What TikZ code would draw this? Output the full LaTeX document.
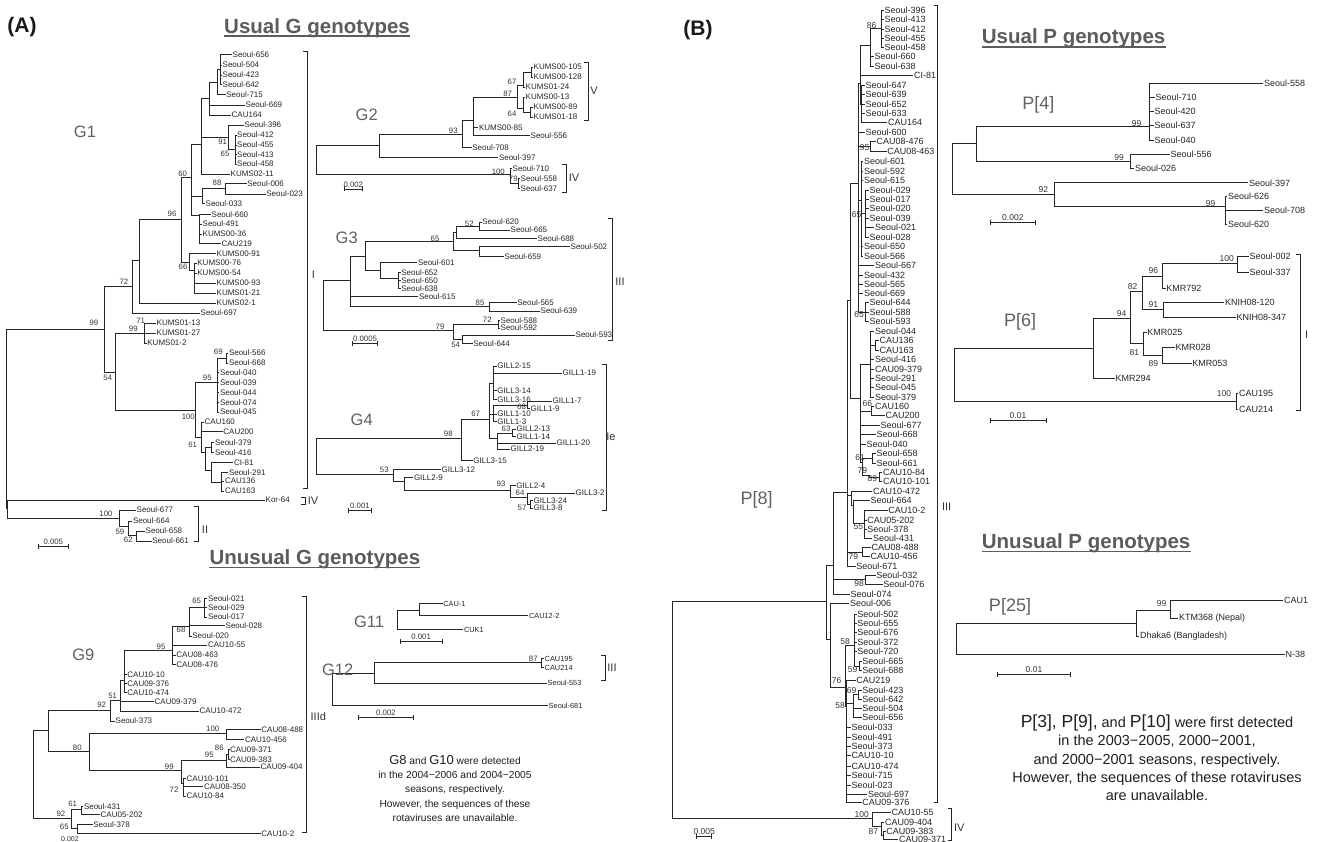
\documentclass[tikz,border=0pt]{standalone}
\usepackage{fontspec}
\setmainfont{Liberation Sans}
\newcounter{lfc}\newcounter{bsc}\newcounter{mxc}
\newcommand\Lf[4]{\stepcounter{lfc}\edef\lfn{lf\arabic{lfc}}\node[lab] (\lfn) at (#1,#2) {#3};\draw[br] (#4) |- (\lfn.west);}
\newcommand\Ls[4]{\stepcounter{lfc}\edef\lfn{lf\arabic{lfc}}\node[lab,sm] (\lfn) at (#1,#2) {#3};\draw[br] (#4) |- (\lfn.west);}
\newcommand\In[4]{\coordinate (#1) at (#2,#3);\draw[br] (#4) |- (#1);}
\newcommand\Bs[3]{\stepcounter{bsc}\edef\bsn{bs\arabic{bsc}}\node[bs] (\bsn) at (#1,#2) {#3};}
\newcommand\Sc[4]{\stepcounter{mxc}\edef\mxn{sc\arabic{mxc}}\draw[br] (#1,#3-2.5) -- (#1,#3+2.5) (#1,#3) -- (#2,#3) (#2,#3-2.5) -- (#2,#3+2.5);\node[bs,anchor=south] (\mxn) at ({(#1+#2)/2},#3-1.5) {#4};}
\newcommand\Br[6]{\stepcounter{mxc}\edef\mxn{br\arabic{mxc}}\draw[br] (#1-4,#2) -- (#1,#2) -- (#1,#3) -- (#1-4,#3);\node[rn] (\mxn) at (#4,#5) {#6};}
\begin{document}
\begin{tikzpicture}[x=1pt,y=-1pt,
 br/.style={draw=black!85,line width=0.75pt},
 lab/.style={font=\fontsize{8}{9}\selectfont,text=black!85,inner sep=0.5pt,anchor=west},
 sm/.style={font=\fontsize{7.4}{8}\selectfont},
 bs/.style={font=\fontsize{7.8}{8}\selectfont,text=black!80,inner sep=0pt},
 gt/.style={font=\fontsize{16.5}{17}\selectfont,text=black!62,inner sep=0pt},
 gtp/.style={font=\fontsize{18}{19}\selectfont,text=black!62,inner sep=0pt},
 hd/.style={font=\bfseries\fontsize{20.5}{22}\selectfont,text=black!64,inner sep=0pt,anchor=base west},
 hdl/.style={draw=black!64,line width=1.6pt},
 plab/.style={font=\bfseries\fontsize{21}{22}\selectfont,text=black!90,inner sep=0pt},
 rn/.style={font=\fontsize{11}{12}\selectfont,text=black!80,inner sep=0pt},
 ntA/.style={font=\fontsize{10.2}{14.2}\selectfont,text=black!88,inner sep=0pt,align=center},
 ntB/.style={font=\fontsize{14.5}{18.4}\selectfont,text=black!88,inner sep=0pt,align=center}]
\fill[white] (0,0) rectangle (1317,842);
\useasboundingbox (0,0) rectangle (1317,842);
% ---------- headings ----------
\node[plab] (pA) at (22,27.5) {(A)};
\node[plab] (pB) at (698,30) {(B)};
\node[hd] (h1) at (224,33.3) {Usual G genotypes};
\draw[hdl] ([yshift=-3pt]h1.base west) -- ([yshift=-3pt]h1.base east);
\node[hd] (h2) at (209.3,564.5) {Unusual G genotypes};
\draw[hdl] ([yshift=-3pt]h2.base west) -- ([yshift=-3pt]h2.base east);
\node[hd] (h3) at (981.7,44) {Usual P genotypes};
\draw[hdl] ([yshift=-3pt]h3.base west) -- ([yshift=-3pt]h3.base east);
\node[hd] (h4) at (981.7,548.3) {Unusual P genotypes};
\draw[hdl] ([yshift=-3pt]h4.base west) -- ([yshift=-3pt]h4.base east);
% ---------- G1 ----------
\coordinate (a0) at (6,418);
\In{a16}{104}{329}{a0}
\In{a27}{7.3}{508}{a0}
\Lf{265}{500}{Kor-64}{a27}
\In{a28}{119.3}{518.3}{a27}
\Lf{136}{510}{Seoul-677}{a28}
\In{a29}{128.3}{526.7}{a28}
\Lf{132.3}{521}{Seoul-664}{a29}
\In{a30}{136.7}{535.5}{a29}
\Lf{145}{531}{Seoul-658}{a30}
\Lf{151.7}{541}{Seoul-661}{a30}
\Bs{106}{514}{100}\Bs{120}{531.7}{59}\Bs{128.3}{539.5}{62}
\In{a15}{132.3}{286}{a16}
\In{a17}{115}{372}{a16}
\Bs{94}{323.3}{99}\Bs{107.7}{378}{54}
\In{a14}{139.3}{260}{a15}
\Lf{200}{313}{Seoul-697}{a15}
\Bs{124}{281.7}{72}
\In{a8}{181}{219.3}{a14}
\Lf{216}{303}{KUMS02-1}{a14}
\Bs{172}{214}{96}
\In{a7}{191}{177.7}{a8}
\In{a13}{189.3}{262}{a8}
\Bs{182.7}{174}{60}
\In{a6}{201}{144}{a7}
\In{a10}{202}{196}{a7}
\In{a9}{199.5}{215}{a7}
\In{a3}{209}{98.5}{a6}
\In{a4}{228}{137}{a6}
\Lf{230}{174}{KUMS02-11}{a6}
\In{a2}{217}{82}{a3}
\Lf{245}{105}{Seoul-669}{a3}
\Lf{231}{115}{CAU164}{a3}
\In{a1}{220}{69}{a2}
\Lf{225.7}{94.3}{Seoul-715}{a2}
\Lf{232}{54.3}{Seoul-656}{a1}
\Lf{222}{65}{Seoul-504}{a1}
\Lf{222}{75}{Seoul-423}{a1}
\Lf{222}{84.3}{Seoul-642}{a1}
\Lf{244}{125}{Seoul-396}{a4}
\In{a5}{235}{149.5}{a4}
\Lf{236.5}{135}{Seoul-412}{a5}
\Lf{236.5}{145}{Seoul-455}{a5}
\Lf{236.5}{154.3}{Seoul-413}{a5}
\Lf{236.5}{164}{Seoul-458}{a5}
\Bs{222.7}{141.7}{91}\Bs{225}{154}{65}
\In{a88}{225}{188.7}{a10}
\Lf{246.7}{183.3}{Seoul-006}{a88}
\Lf{265.7}{194}{Seoul-023}{a88}
\Bs{217}{183}{88}
\Lf{205}{203.3}{Seoul-033}{a10}
\Lf{211}{214.7}{Seoul-660}{a9}
\Lf{202}{224}{Seoul-491}{a9}
\Lf{202}{234}{KUMS00-36}{a9}
\Lf{221}{243.7}{CAU219}{a9}
\Lf{216}{253.7}{KUMS00-91}{a13}
\In{a12}{194.3}{270}{a13}
\Lf{196.7}{263}{KUMS00-76}{a12}
\Lf{196.7}{273}{KUMS00-54}{a12}
\Lf{216}{283}{KUMS00-93}{a12}
\Lf{216}{293}{KUMS01-21}{a12}
\Bs{183}{267}{66}
\In{a18}{144}{333.3}{a17}
\In{a19}{195.3}{410.7}{a17}
\Lf{156}{323}{KUMS01-13}{a18}
\Lf{156}{333}{KUMS01-27}{a18}
\Lf{146.7}{343}{KUMS01-2}{a18}
\Bs{140.7}{320.7}{71}\Bs{133.3}{329}{99}
\Bs{188.3}{416.7}{100}
\In{a20}{217.3}{382.7}{a19}
\In{a23}{201.7}{437}{a19}
\Bs{207.3}{378.3}{95}
\In{a21}{226}{358}{a20}
\Lf{228.3}{353}{Seoul-566}{a21}
\Lf{228.3}{363}{Seoul-668}{a21}
\Bs{218.3}{351.7}{69}
\Lf{219.3}{372.3}{Seoul-040}{a20}
\Lf{219.3}{382.3}{Seoul-039}{a20}
\Lf{219.3}{392.3}{Seoul-044}{a20}
\Lf{219.3}{402.3}{Seoul-074}{a20}
\Lf{219.3}{412}{Seoul-045}{a20}
\Lf{204}{422}{CAU160}{a23}
\Lf{222.7}{431.7}{CAU200}{a23}
\In{a22}{205}{452}{a23}
\Bs{192.7}{445}{61}
\In{a24}{211.7}{447.3}{a22}
\Lf{214.3}{442.3}{Seoul-379}{a24}
\Lf{214.3}{452.3}{Seoul-416}{a24}
\In{a25}{211.7}{470}{a22}
\Lf{233.3}{462.3}{CI-81}{a25}
\In{a26}{221.7}{482}{a25}
\Lf{228.3}{472.3}{Seoul-291}{a26}
\Lf{224.3}{481}{CAU136}{a26}
\Lf{224.3}{491}{CAU163}{a26}
\Br{307}{51}{488}{313.3}{275}{I}
\Br{305}{497}{504}{313}{500.5}{IV}
\Br{198.3}{506.7}{541.7}{205}{529.3}{II}
\Sc{38.3}{68.3}{546}{0.005}
\node[gt] (tG1) at (85,131.7) {G1};
% ---------- G2 ----------
\coordinate (b0) at (316.7,159.7);
\In{b1}{379.3}{145}{b0}
\In{b2}{510}{174.3}{b0}
\In{b3}{462.3}{134.3}{b1}
\Lf{498.3}{157.5}{Seoul-397}{b1}
\Bs{453.3}{130.7}{93}
\In{b4}{473.3}{120}{b3}
\Lf{471.7}{147.3}{Seoul-708}{b3}
\In{b5}{517.3}{97.3}{b4}
\Lf{478.3}{127.3}{KUMS00-85}{b4}
\Lf{530}{135.5}{Seoul-556}{b4}
\Bs{507.7}{94}{87}
\In{b6}{523}{85}{b5}
\Bs{512}{81.7}{67}
\In{b6a}{531}{72}{b6}
\Lf{533}{67}{KUMS00-105}{b6a}
\Lf{533}{77}{KUMS00-128}{b6a}
\Lf{525}{87}{KUMS01-24}{b6}
\In{b7}{523}{108.3}{b5}
\Bs{512}{114}{64}
\Lf{525}{97}{KUMS00-13}{b7}
\In{b7a}{530}{112}{b7}
\Lf{533}{107}{KUMS00-89}{b7a}
\Lf{533}{117}{KUMS01-18}{b7a}
\Lf{512}{168.3}{Seoul-710}{b2}
\In{b8}{518}{183}{b2}
\Lf{520}{178.3}{Seoul-558}{b8}
\Lf{520}{188.3}{Seoul-637}{b8}
\Bs{498.3}{171.7}{100}\Bs{513.3}{179.3}{79}
\Sc{344.3}{362.3}{189}{0.002}
\node[gt] (tG2) at (366.7,115) {G2};
\Br{588}{62}{120}{594}{91}{V}
\Br{566}{164}{192}{574}{178}{IV}
% ---------- G3 ----------
\coordinate (c0) at (323.3,305);
\In{c1}{350}{280.7}{c0}
\In{c2}{453.3}{330}{c0}
\In{c3}{365}{256}{c1}
\Lf{418.3}{296.7}{Seoul-615}{c1}
\In{c4}{489.3}{306.7}{c1}
\Bs{480}{303.3}{85}
\Lf{516.7}{302.5}{Seoul-565}{c4}
\Lf{540}{311}{Seoul-639}{c4}
\In{c5}{453.3}{241.7}{c3}
\Bs{435}{239.3}{65}
\In{c6}{380}{270}{c3}
\In{c7}{456}{232}{c5}
\In{c8}{479.3}{250.7}{c5}
\In{c9}{479.3}{226}{c7}
\Bs{469.3}{224.3}{52}
\Lf{481.7}{222}{Seoul-620}{c9}
\Lf{510}{230}{Seoul-665}{c9}
\Lf{537}{238.3}{Seoul-688}{c7}
\Lf{570}{246.7}{Seoul-502}{c8}
\Lf{504}{256.7}{Seoul-659}{c8}
\Lf{417.3}{262.7}{Seoul-601}{c6}
\In{c10}{398.3}{278.3}{c6}
\Lf{400.7}{272.7}{Seoul-652}{c10}
\Lf{400.7}{280.7}{Seoul-650}{c10}
\Lf{400.7}{288.3}{Seoul-638}{c10}
\Bs{440}{326.7}{79}
\In{c11}{498.3}{324}{c2}
\Bs{487.3}{319.3}{72}
\Lf{500}{320.5}{Seoul-588}{c11}
\Lf{500}{328}{Seoul-592}{c11}
\In{c12}{462.7}{339}{c2}
\Bs{455.7}{345}{54}
\Lf{575}{335}{Seoul-593}{c12}
\Lf{472.7}{343.5}{Seoul-644}{c12}
\Sc{352.7}{377.3}{343.3}{0.0005}
\node[gt] (tG3) at (346.7,238.3) {G3};
\Br{612}{218}{340}{620}{282}{III}
% ---------- G4 ----------
\coordinate (g0) at (316,456);
\In{ga}{461.7}{438.3}{g0}
\In{gb}{393.3}{474.3}{g0}
\Bs{448.3}{434}{98}
\In{gc}{489.3}{419.3}{ga}
\Lf{472.7}{460.5}{GILL3-15}{ga}
\Bs{475.7}{414.3}{67}
\In{gd}{493.3}{383}{gc}
\Lf{496.7}{366}{GILL2-15}{gd}
\Lf{562}{373}{GILL1-19}{gd}
\Lf{496.7}{390.7}{GILL3-14}{gd}
\Lf{496.7}{399.3}{GILL3-16}{gd}
\In{ge}{493.3}{414}{gc}
\In{gf}{527}{405}{ge}
\Bs{521.5}{407}{68}
\Lf{552}{401}{GILL1-7}{gf}
\Lf{530}{408.5}{GILL1-9}{gf}
\Lf{496.7}{414}{GILL1-10}{ge}
\Lf{496.7}{421.7}{GILL1-3}{ge}
\In{gg}{497}{438}{gc}
\In{gh}{512}{433}{gg}
\Bs{506}{429}{63}
\Lf{516}{429}{GILL2-13}{gh}
\Lf{516}{436.5}{GILL1-14}{gh}
\Lf{556}{443}{GILL1-20}{gg}
\Lf{510}{449}{GILL2-19}{gg}
\Bs{384.3}{470}{53}
\Lf{441}{469.5}{GILL3-12}{gb}
\In{gi}{404.3}{481.7}{gb}
\Lf{413.3}{477.7}{GILL2-9}{gi}
\In{gj}{510}{490}{gi}
\Bs{501}{484.3}{93}
\Lf{515.7}{485.7}{GILL2-4}{gj}
\In{gk}{527}{497}{gj}
\Bs{520}{492.7}{64}
\Lf{575}{493}{GILL3-2}{gk}
\In{gl}{530}{504}{gk}
\Bs{522}{507.5}{57}
\Lf{533}{500.5}{GILL3-24}{gl}
\Lf{533}{508}{GILL3-8}{gl}
\Sc{348.3}{371.7}{510}{0.001}
\node[gt] (tG4) at (361.7,420) {G4};
\Br{606}{364}{510}{611}{437}{Ie}
% ---------- G9 ----------
\coordinate (d0) at (33.3,774);
\In{dm}{48.3}{730}{d0}
\In{dn}{71.7}{818.3}{d0}
\In{dd}{110}{710}{dm}
\Bs{101.7}{705}{92}
\In{dh}{89.3}{751.7}{dm}
\Bs{77.3}{748.3}{80}
\In{de}{120}{700.7}{dd}
\Bs{112.7}{695.7}{51}
\Lf{115}{721}{Seoul-373}{dd}
\In{df}{124}{680}{de}
\Lf{154}{701.7}{CAU09-379}{de}
\Lf{199}{711}{CAU10-472}{de}
\In{dc}{172.7}{650}{df}
\Bs{161}{646.7}{95}
\Lf{126.7}{674.3}{CAU10-10}{df}
\Lf{126.7}{683.3}{CAU09-376}{df}
\Lf{126.7}{692.7}{CAU10-474}{df}
\In{db}{189.3}{626.7}{dc}
\Bs{181}{630}{68}
\Lf{207.3}{645}{CAU10-55}{dc}
\Lf{175.7}{655}{CAU08-463}{dc}
\Lf{175.7}{664.3}{CAU08-476}{dc}
\In{da}{204}{607.7}{db}
\Bs{196.7}{600.7}{65}
\Lf{207.3}{598.3}{Seoul-021}{da}
\Lf{207.3}{607.7}{Seoul-029}{da}
\Lf{207.3}{617}{Seoul-017}{da}
\Lf{225}{625.5}{Seoul-028}{db}
\Lf{191.7}{636}{Seoul-020}{db}
\In{dg}{226.7}{733.3}{dh}
\Bs{212.7}{729}{100}
\Lf{260.7}{729.3}{CAU08-488}{dg}
\Lf{244.3}{739.5}{CAU10-456}{dg}
\In{di}{181}{770.7}{dh}
\Bs{169.3}{767.3}{99}
\In{dj}{226.7}{760}{di}
\Bs{209.3}{755}{95}
\In{dj2}{228.5}{754.3}{dj}
\Bs{219.3}{748.3}{86}
\Lf{229.3}{749.3}{CAU09-371}{dj2}
\Lf{229.3}{759.3}{CAU09-383}{dj2}
\Lf{260}{767}{CAU09-404}{dj}
\In{dk}{183.3}{783.3}{di}
\Bs{174}{789.3}{72}
\Lf{186}{778.3}{CAU10-101}{dk}
\Lf{203.3}{786.7}{CAU08-350}{dk}
\Lf{186}{796}{CAU10-84}{dk}
\In{do}{81}{809.3}{dn}
\Bs{72.7}{804}{61}
\Bs{61}{814}{92}
\Lf{83.3}{806.7}{Seoul-431}{do}
\Lf{100}{814.5}{CAU05-202}{do}
\In{dp}{77.3}{828.3}{dn}
\Bs{64.3}{827.3}{65}
\Lf{92.7}{824.5}{Seoul-378}{dp}
\Lf{260.7}{833.5}{CAU10-2}{dp}
\node[bs,font=\fontsize{7}{7}\selectfont] (scg9) at (70,838.6) {0.002};
\Br{306}{596.7}{832}{318.3}{716.7}{IIId}
\node[gt] (tG9) at (83.3,655) {G9};
% ---------- G11 ----------
\coordinate (e0) at (397.7,619.7);
\In{e1}{419.3}{610}{e0}
\Ls{442.7}{603.5}{CAU-1}{e1}
\Ls{528.3}{615.7}{CAU12-2}{e1}
\Ls{463.3}{629.5}{CUK1}{e0}
\Sc{400}{442.3}{641.7}{0.001}
\node[gt] (tG11) at (369,621.7) {G11};
% ---------- G12 ----------
\coordinate (f0) at (332.3,689.5);
\In{f1}{374.3}{673.3}{f0}
\Ls{548}{705.7}{Seoul-681}{f0}
\In{f2}{541}{662.7}{f1}
\Bs{533.3}{658.5}{87}
\Ls{544}{658.5}{CAU195}{f2}
\Ls{544}{667.5}{CAU214}{f2}
\Ls{547}{683.3}{Seoul-553}{f1}
\Sc{358.3}{413.3}{717.3}{0.002}
\node[gt] (tG12) at (337.7,670) {G12};
\Br{605}{655}{680}{612}{668}{III}
\node[ntA] (txtG) at (455,788.4) {{\fontsize{13}{14}\selectfont G8} and {\fontsize{13}{14}\selectfont G10} were detected\\in the 2004−2006 and 2004−2005\\seasons, respectively.\\However, the sequences of these\\rotaviruses are unavailable.};
% ================= panel B =================
\begin{scope}[lab/.style={font=\fontsize{9}{10}\selectfont,text=black!85,inner sep=0.5pt,anchor=west},
 bs/.style={font=\fontsize{8.5}{9}\selectfont,text=black!80,inner sep=0pt}]
% ---------- P[8] ----------
\coordinate (p0) at (672,710);
\In{p3}{826.7}{601.7}{p0}
\In{p4}{872.7}{818.3}{p0}
\In{pa}{833.3}{565}{p3}
\In{pc}{830.7}{639.3}{p3}
\In{pb}{847.3}{492.7}{pa}
\In{p98}{865}{579.5}{pa}
\Lf{850}{594.5}{Seoul-074}{pa}
\Bs{859}{583.3}{98}
\Lf{875.7}{575.5}{Seoul-032}{p98}
\Lf{882.7}{584.5}{Seoul-076}{p98}
\Lf{849.3}{603.5}{Seoul-006}{pc}
\In{pd}{845.7}{687}{pc}
\Bs{836.7}{681}{76}
\In{pe}{854}{645}{pd}
\Bs{845}{641.7}{58}
\Lf{856.7}{614.3}{Seoul-502}{pe}
\Lf{856.7}{623.3}{Seoul-655}{pe}
\Lf{856.7}{632.7}{Seoul-676}{pe}
\Lf{856.7}{642.3}{Seoul-372}{pe}
\Lf{856.7}{651.7}{Seoul-720}{pe}
\In{pf}{859.7}{666}{pe}
\Bs{852.7}{669.3}{59}
\Lf{861.7}{661.7}{Seoul-665}{pf}
\Lf{861.7}{670.7}{Seoul-688}{pf}
\In{pg}{846.5}{706}{pd}
\Bs{840}{706}{58}
\Lf{855.7}{680.7}{CAU219}{pg}
\In{pj}{853}{703.5}{pg}
\In{ph}{858.3}{694.5}{pj}
\Bs{851.5}{690.7}{69}
\Lf{861.7}{690}{Seoul-423}{ph}
\Lf{861.7}{699}{Seoul-642}{ph}
\Lf{861.7}{708.3}{Seoul-504}{pj}
\Lf{861.7}{717.7}{Seoul-656}{pj}
\Lf{851}{727.7}{Seoul-033}{pg}
\Lf{851}{737}{Seoul-491}{pg}
\Lf{851}{746.7}{Seoul-373}{pg}
\Lf{851}{755.7}{CAU10-10}{pg}
\Lf{851}{766}{CAU10-474}{pg}
\Lf{851}{775}{Seoul-715}{pg}
\Lf{851}{785}{Seoul-023}{pg}
\Lf{867.3}{794}{Seoul-697}{pg}
\Lf{861.7}{802.7}{CAU09-376}{pg}
\In{pq}{850}{300}{pb}
\In{pr1}{851.7}{495}{pb}
\In{p79b}{862.7}{552}{pb}
\Lf{855.7}{566.7}{Seoul-671}{pb}
\Bs{853.3}{556.7}{79}
\Lf{871}{547.7}{CAU08-488}{p79b}
\Lf{870}{556.7}{CAU10-456}{p79b}
\Lf{872.3}{491}{CAU10-472}{pr1}
\In{pr2}{853.3}{505}{pr1}
\Lf{870}{500.7}{Seoul-664}{pr2}
\In{p55}{864}{523}{pr2}
\Bs{858.3}{526.7}{55}
\Lf{887.7}{510.7}{CAU10-2}{p55}
\Lf{866.7}{520}{CAU05-202}{p55}
\Lf{866.7}{529.7}{Seoul-378}{p55}
\Lf{872.3}{538.7}{Seoul-431}{p55}
\In{ps}{858}{183.3}{pq}
\In{pt}{860}{398.3}{pq}
\In{pn}{860.5}{83}{ps}
\Lf{865}{132.7}{Seoul-600}{ps}
\In{p95}{870}{146.7}{ps}
\In{pu}{861.7}{200}{ps}
\Lf{874.3}{265.3}{Seoul-667}{ps}
\Lf{863.3}{275.3}{Seoul-432}{ps}
\Lf{863.3}{284}{Seoul-565}{ps}
\Lf{863.3}{293.7}{Seoul-669}{ps}
\In{pp}{865.7}{312}{ps}
\In{pk}{870.7}{45}{pn}
\Lf{913.3}{75.7}{CI-81}{pn}
\In{pm}{861.7}{104}{pn}
\In{pl}{881}{28.7}{pk}
\Bs{871.7}{26}{86}
\Lf{884}{10}{Seoul-396}{pl}
\Lf{884}{19.3}{Seoul-413}{pl}
\Lf{884}{29}{Seoul-412}{pl}
\Lf{884}{38.3}{Seoul-455}{pl}
\Lf{884}{47.7}{Seoul-458}{pl}
\Lf{874}{56.7}{Seoul-660}{pk}
\Lf{874}{66}{Seoul-638}{pk}
\Lf{865}{85.7}{Seoul-647}{pm}
\Lf{865}{94.7}{Seoul-639}{pm}
\Lf{865}{104.7}{Seoul-652}{pm}
\Lf{865}{113.3}{Seoul-633}{pm}
\Lf{887.3}{122.5}{CAU164}{pm}
\Bs{864.5}{147.5}{95}
\Lf{876}{141.7}{CAU08-476}{p95}
\Lf{886.7}{151.7}{CAU08-463}{p95}
\Lf{863.3}{161.3}{Seoul-601}{pu}
\Lf{863.3}{171}{Seoul-592}{pu}
\Lf{863.3}{180.3}{Seoul-615}{pu}
\In{po}{865}{213}{pu}
\Bs{856.7}{215}{65}
\Lf{869}{190}{Seoul-029}{po}
\Lf{869}{199}{Seoul-017}{po}
\Lf{869}{208.3}{Seoul-020}{po}
\Lf{869}{218.3}{Seoul-039}{po}
\Lf{874.3}{227.3}{Seoul-021}{po}
\Lf{869}{237}{Seoul-028}{po}
\Lf{863.3}{246.7}{Seoul-650}{pu}
\Lf{863.3}{256}{Seoul-566}{pu}
\Bs{859}{314.3}{65}
\Lf{869}{302.7}{Seoul-644}{pp}
\Lf{869}{312}{Seoul-588}{pp}
\Lf{869}{321.7}{Seoul-593}{pp}
\In{pv}{870.7}{364}{pt}
\In{pw}{871.7}{411}{pt}
\Bs{867.3}{403.3}{66}
\Lf{880}{425.7}{Seoul-677}{pt}
\Lf{876}{434.7}{Seoul-668}{pt}
\Lf{866}{444}{Seoul-040}{pt}
\In{px}{862.7}{462}{pt}
\Bs{860}{457.7}{61}
\Lf{874.3}{331}{Seoul-044}{pv}
\In{pv2}{875}{345.5}{pv}
\Lf{879}{340.7}{CAU136}{pv2}
\Lf{879}{350}{CAU163}{pv2}
\Lf{874.3}{359.7}{Seoul-416}{pv}
\Lf{874.3}{369}{CAU09-379}{pv}
\Lf{874.3}{378}{Seoul-291}{pv}
\Lf{874.3}{387.7}{Seoul-045}{pv}
\Lf{874.3}{397}{Seoul-379}{pv}
\Lf{874.3}{406.7}{CAU160}{pw}
\Lf{885}{415.7}{CAU200}{pw}
\In{py}{872.5}{458.3}{px}
\Lf{876}{453.7}{Seoul-658}{py}
\Lf{876}{463}{Seoul-661}{py}
\In{pz}{869.3}{475}{px}
\Bs{862.3}{471}{79}
\In{pz2}{879}{477.2}{pz}
\Bs{872.3}{478.3}{89}
\Lf{882.3}{472.7}{CAU10-84}{pz2}
\Lf{882.3}{481.7}{CAU10-101}{pz2}
\Bs{861.7}{814.3}{100}
\Lf{891}{812}{CAU10-55}{p4}
\In{p4a}{881.7}{826}{p4}
\Lf{884.3}{822.3}{CAU09-404}{p4a}
\In{p4b}{883.5}{835}{p4a}
\Bs{873.3}{831.7}{87}
\Lf{885.7}{831.5}{CAU09-383}{p4b}
\Lf{898.3}{839.5}{CAU09-371}{p4b}
\Sc{696.7}{711.7}{836.7}{0.005}
\Br{937.5}{5}{802.7}{946.7}{506.7}{III}
\Br{951.7}{808.3}{840}{959.3}{827.3}{IV}
\node[gtp] (tP8) at (756.7,500) {P[8]};
% ---------- P[4] ----------
\coordinate (q0) at (952.3,168.8);
\In{q1}{976}{143.3}{q0}
\In{q4}{1054}{194.3}{q0}
\Bs{1043.3}{190}{92}
\In{q2}{1149.3}{126.7}{q1}
\Bs{1136.7}{123.3}{99}
\Lf{1263.3}{83.5}{Seoul-558}{q2}
\Lf{1155}{97.7}{Seoul-710}{q2}
\Lf{1154}{111.7}{Seoul-420}{q2}
\Lf{1154}{125.7}{Seoul-637}{q2}
\Lf{1154}{140}{Seoul-040}{q2}
\In{q3}{1130}{161}{q1}
\Bs{1119}{157.7}{99}
\Lf{1170}{154.5}{Seoul-556}{q3}
\Lf{1134.3}{168}{Seoul-026}{q3}
\Lf{1248.3}{182.8}{Seoul-397}{q4}
\In{q5}{1225}{206}{q4}
\Bs{1210.7}{203.5}{99}
\Lf{1227.3}{196.7}{Seoul-626}{q5}
\Lf{1263.3}{210.5}{Seoul-708}{q5}
\Lf{1227.3}{224}{Seoul-620}{q5}
\Sc{990}{1035.7}{222.3}{0.002}
\node[gtp] (tP4) at (1038.3,105) {P[4]};
% ---------- P[6] ----------
\coordinate (r0) at (954,375);
\In{r1}{1093.3}{348.3}{r0}
\In{r2}{1236}{401.7}{r0}
\Bs{1224}{394}{100}
\Lf{1238.3}{393.3}{CAU195}{r2}
\Lf{1238.3}{409}{CAU214}{r2}
\In{r3}{1130.7}{318.3}{r1}
\Bs{1121.7}{314}{94}
\Lf{1115}{378.7}{KMR294}{r1}
\In{r4}{1142.7}{291.7}{r3}
\Bs{1132.7}{286.7}{82}
\In{r5}{1143.3}{343}{r3}
\Bs{1134.3}{352.7}{81}
\In{r6}{1162.7}{276}{r4}
\Bs{1153.3}{270.7}{96}
\In{r7}{1163.3}{309.3}{r4}
\Bs{1153.3}{305}{91}
\In{r8}{1237.3}{263.3}{r6}
\Bs{1226.7}{259}{100}
\Lf{1249}{256.3}{Seoul-002}{r8}
\Lf{1249}{272}{Seoul-337}{r8}
\Lf{1165.7}{288.3}{KMR792}{r6}
\Lf{1224.3}{302.5}{KNIH08-120}{r7}
\Lf{1236}{317.8}{KNIH08-347}{r7}
\Lf{1146.7}{332.7}{KMR025}{r5}
\In{r9}{1162.7}{355}{r5}
\Bs{1153.3}{364}{89}
\Lf{1175}{347.7}{KMR028}{r9}
\Lf{1191.7}{363.7}{KMR053}{r9}
\Br{1300}{254.3}{410}{1306.7}{335}{I}
\Sc{990}{1046}{420}{0.01}
\node[gtp] (tP6) at (1020,321.7) {P[6]};
% ---------- P[25] ----------
\coordinate (s0) at (956.7,638.8);
\In{s1}{1136.7}{623.3}{s0}
\Lf{1285}{654.3}{N-38}{s0}
\In{s2}{1170}{610}{s1}
\Bs{1161.7}{603.3}{99}
\Lf{1283.3}{600}{CAU1}{s2}
\Lf{1178.3}{618.3}{KTM368 (Nepal)}{s2}
\Lf{1139.3}{636}{Dhaka6 (Bangladesh)}{s1}
\Sc{997.3}{1070.7}{674.3}{0.01}
\node[gtp] (tP25) at (1010,606.7) {P[25]};
\end{scope}
\node[ntB] (txtP) at (1157,757.9) {{\fontsize{17.5}{18}\selectfont P[3], P[9],} and {\fontsize{17.5}{18}\selectfont P[10]} were first detected\\in the 2003−2005, 2000−2001,\\and 2000−2001 seasons, respectively.\\However, the sequences of these rotaviruses\\are unavailable.};
\end{tikzpicture}
\end{document}
